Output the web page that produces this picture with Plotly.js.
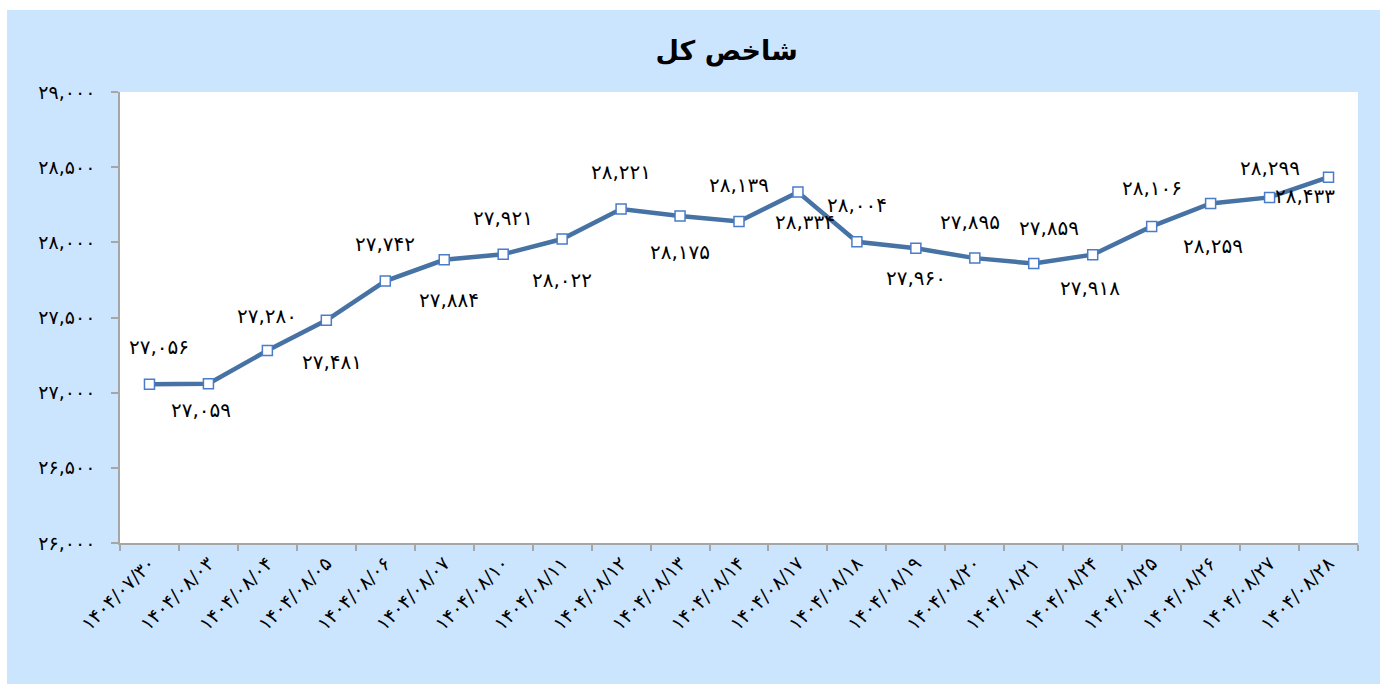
<!DOCTYPE html>
<html>
<head>
<meta charset="utf-8">
<script src="https://cdn.plot.ly/plotly-3.0.1.min.js"></script>
<style>
  html, body { margin: 0; padding: 0; background: #ffffff; }
  #chart { position: absolute; left: 7px; top: 10px; width: 1373px; height: 674px; }
</style>
</head>
<body>
<div id="chart"></div>
<script>
const categories = [
  '۱۴۰۴/۰۷/۳۰', '۱۴۰۴/۰۸/۰۳', '۱۴۰۴/۰۸/۰۴', '۱۴۰۴/۰۸/۰۵', '۱۴۰۴/۰۸/۰۶',
  '۱۴۰۴/۰۸/۰۷', '۱۴۰۴/۰۸/۱۰', '۱۴۰۴/۰۸/۱۱', '۱۴۰۴/۰۸/۱۲', '۱۴۰۴/۰۸/۱۳',
  '۱۴۰۴/۰۸/۱۴', '۱۴۰۴/۰۸/۱۷', '۱۴۰۴/۰۸/۱۸', '۱۴۰۴/۰۸/۱۹', '۱۴۰۴/۰۸/۲۰',
  '۱۴۰۴/۰۸/۲۱', '۱۴۰۴/۰۸/۲۴', '۱۴۰۴/۰۸/۲۵', '۱۴۰۴/۰۸/۲۶', '۱۴۰۴/۰۸/۲۷',
  '۱۴۰۴/۰۸/۲۸'
];
const indexValues = [
  27056, 27059, 27280, 27481, 27742,
  27884, 27921, 28022, 28221, 28175,
  28139, 28334, 28004, 27960, 27895,
  27859, 27918, 28106, 28259, 28299,
  28433
];
const yTickVals = [26000, 26500, 27000, 27500, 28000, 28500, 29000];

// label placement (pixels): style only
const labelDx = [10, -7, 0, 6, 0, 5, 0, 0, 0, 0, 0, 7, 0, 0, -5, 15, -3, 0, 2, 0, -24];
const labelDy = [37, -26, 35, -42, 37, -40, 36, -41, 37, -36, 36, -30, 37, -30, 36, 36, -33, 38, -43, 29, -19];

const faDigits = '۰۱۲۳۴۵۶۷۸۹';
function fa(n) {
  return n.toLocaleString('en-US').replace(/\d/g, d => faDigits[+d]);
}

const FONT = 'DejaVu Sans, Noto Sans, sans-serif';

const trace = {
  type: 'scatter',
  mode: 'lines+markers',
  x: categories,
  y: indexValues,
  yaxis: 'y2',
  line: { color: '#4672A4', width: 4.5 },
  marker: { symbol: 'square', size: 10, color: '#ffffff', line: { color: '#4A7CC9', width: 1.5 } },
  hoverinfo: 'x+y',
  cliponaxis: false
};

const annotations = indexValues.map((v, i) => ({
  x: categories[i], y: v, xref: 'x', yref: 'y2',
  text: fa(v), showarrow: false,
  xshift: labelDx[i], yshift: labelDy[i],
  font: { family: FONT, size: 20, color: '#000000' }
}));

const layout = {
  width: 1373, height: 674,
  paper_bgcolor: '#CCE5FF',
  plot_bgcolor: '#ffffff',
  margin: { l: 113, r: 22, t: 82, b: 141 },
  showlegend: false,
  title: {
    text: 'شاخص کل',
    x: 0.49, xref: 'paper', xanchor: 'center',
    y: 0.94, yref: 'container', yanchor: 'middle',
    font: { family: FONT, size: 27, color: '#000000', weight: 'bold' }
  },
  xaxis: {
    type: 'category',
    tickson: 'boundaries',
    ticks: 'outside', ticklen: 6, tickcolor: '#A6A6A6', tickwidth: 1.5,
    showline: true, linecolor: '#A6A6A6', linewidth: 1.5,
    showgrid: false, zeroline: false,
    tickangle: -45,
    tickfont: { family: FONT, size: 19, color: '#000000' },
    range: [-0.5, categories.length - 0.5]
  },
  yaxis: {
    range: [26000, 29000],
    tick0: 26000, dtick: 400,
    showgrid: true, gridcolor: '#BFBFBF', gridwidth: 1,
    showticklabels: false, ticks: '', zeroline: false, showline: false
  },
  yaxis2: {
    overlaying: 'y', side: 'left',
    range: [26000, 29000],
    tickmode: 'array', tickvals: yTickVals, ticktext: yTickVals.map(fa),
    ticks: 'outside', ticklen: 7, tickcolor: '#A6A6A6', tickwidth: 1.5,
    ticklabelstandoff: 12,
    showline: true, linecolor: '#A6A6A6', linewidth: 1.5,
    showgrid: false, zeroline: false,
    tickfont: { family: FONT, size: 19, color: '#000000' }
  },
  annotations: annotations
};

Plotly.newPlot('chart', [trace], layout, { displayModeBar: false, staticPlot: false });
</script>
</body>
</html>
